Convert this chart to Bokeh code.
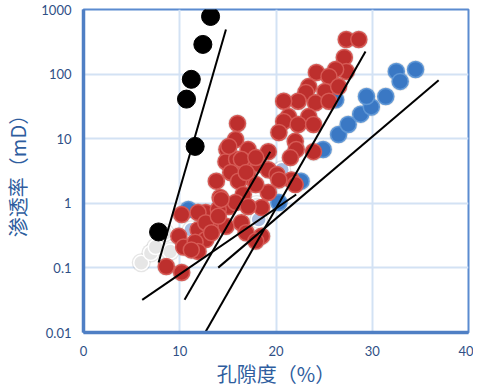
from bokeh.plotting import figure
from bokeh.models import FixedTicker, CustomJSTickFormatter, ColumnDataSource
from bokeh.embed import file_html
from bokeh.resources import INLINE

# --- data (porosity %, permeability mD) ---
red_x = [27.3, 28.6, 27.1, 27.3, 26.2, 24.2, 25.5, 23.4, 23.1, 25.1, 26.5, 24.1, 25.5, 22.3, 20.8,
         21.3, 23.4, 20.8, 22.3, 23.9, 20.3, 16.0, 22.0, 17.1, 19.2, 22.1, 23.9, 21.5, 16.8, 18.2,
         19.2, 17.1, 20.1, 21.6, 19.2, 22.0, 15.8, 14.9, 14.8, 15.9, 15.3, 13.8, 16.1, 15.1, 16.4,
         17.9, 16.9, 17.9, 14.2, 16.6, 15.1, 18.5, 12.7, 20.3, 11.9, 14.0, 15.8, 11.9, 13.3, 14.8,
         12.7, 11.4, 16.4, 16.9, 18.5, 17.9, 17.1, 10.2, 9.9, 10.4, 11.6, 11.9, 8.6, 10.2, 12.7,
         13.3, 14.0, 14.3, 11.2]
red_y = [344, 344, 181, 110, 118, 106, 92, 64, 52, 54, 64, 36, 38, 38, 38,
         22, 22, 18.5, 16.6, 16.6, 12.5, 17.2, 9.1, 6.8, 6.3, 6.8, 6.3, 5.1, 3.7, 4.0,
         3.3, 2.6, 2.8, 2.3, 1.47, 1.95, 9.7, 6.8, 4.4, 4.8, 3.0, 2.2, 2.2, 7.6, 4.8,
         5.1, 3.0, 1.95, 1.23, 1.37, 0.89, 0.86, 0.72, 2.3, 0.72, 0.80, 1.03, 0.39, 0.47, 0.44,
         0.275, 0.21, 0.50, 0.35, 0.31, 0.26, 0.89, 0.67, 0.31, 0.21, 0.25, 0.18, 0.105, 0.085, 0.50,
         0.35, 0.63, 1.15, 0.19]

blue_x = [10.9, 20.3, 22.6, 24.9, 26.5, 27.5, 28.8, 29.9, 29.4, 31.4, 32.5, 32.9, 34.5, 26.2]
blue_y = [0.80, 1.03, 2.2, 6.8, 11.6, 16.6, 24, 31, 45, 45, 110, 77, 118, 40]

white_x = [6.0, 7.0, 7.5, 9.0, 8.5, 18.0]
white_y = [0.12, 0.17, 0.21, 0.18, 0.35, 0.96]

lblue_x = [11.2, 18.2, 20.6]
lblue_y = [0.39, 0.56, 3.3]

black_x = [13.2, 12.4, 11.2, 10.7, 11.6, 7.8]
black_y = [780, 288, 83, 41, 7.6, 0.36]

# trend lines (start/end points)
line_x0 = [14.8, 10.5, 6.1, 14.0, 11.2]
line_y0 = [490, 0.032, 0.032, 0.101, 0.0042]
line_x1 = [7.8, 19.4, 22.1, 36.9, 29.3]
line_y1 = [0.121, 6.3, 1.37, 80, 224]

y_ticks = [0.01, 0.1, 1, 10, 100, 1000]
x_ticks = [0, 10, 20, 30, 40]

p = figure(frame_width=385, frame_height=323, x_range=(0, 40), y_range=(0.01, 1000),
           y_axis_type="log", output_backend="svg", toolbar_location=None,
           min_border_left=77, min_border_right=5, min_border_top=9, min_border_bottom=10)

p.background_fill_color = "white"
p.outline_line_color = "#5b8bd0"
p.outline_line_width = 2

axis_col = "#4f7fc4"
for ax in (p.xaxis[0], p.yaxis[0]):
    ax.axis_line_color = axis_col
    ax.axis_line_width = 3.5
    ax.major_tick_line_color = None
    ax.minor_tick_line_color = None
    ax.major_tick_out = 0
    ax.major_tick_in = 0
    ax.minor_tick_out = 0
    ax.major_label_text_color = "#2f4f86"
    ax.major_label_text_font = "Lato"
    ax.major_label_text_font_size = "13px"
    ax.axis_label_text_color = "#2e5d9e"
    ax.axis_label_text_font = "Noto Sans CJK SC"
    ax.axis_label_text_font_size = "20px"
    ax.axis_label_text_font_style = "normal"

p.xaxis.ticker = FixedTicker(ticks=x_ticks)
p.yaxis.ticker = FixedTicker(ticks=y_ticks)
p.yaxis.formatter = CustomJSTickFormatter(code="return Number(tick.toPrecision(3)).toString();")
p.xaxis.axis_label = "孔隙度（%）"
p.yaxis.axis_label = "渗透率（mD）"
p.xaxis.major_label_standoff = 13
p.xaxis.axis_label_standoff = 0
p.yaxis.major_label_standoff = 12
p.yaxis.axis_label_standoff = 6

p.xgrid.ticker = FixedTicker(ticks=x_ticks)
p.ygrid.ticker = FixedTicker(ticks=y_ticks)
p.grid.grid_line_color = "#d3e2f4"
p.grid.grid_line_width = 2

shadow = dict(size=19, fill_color="#777777", fill_alpha=0.18, line_color=None)
for xs, ys in ((white_x, white_y), (blue_x, blue_y), (lblue_x, lblue_y), (red_x, red_y), (black_x, black_y)):
    p.scatter(xs, ys, **shadow)

p.scatter(white_x, white_y, size=15, fill_color="#e6e6e6", line_color="white", line_width=1.5)
p.scatter(blue_x, blue_y, size=16, fill_color="#3a78c4", line_color="#5f97d6", line_width=1.5)
p.scatter(lblue_x, lblue_y, size=15, fill_color="#a9bde0", line_color="white", line_width=1.5)
p.scatter(red_x, red_y, size=16, fill_color="#bd2f2d", line_color="#d65a55", line_width=1.5)
p.scatter(black_x, black_y, size=18, fill_color="black", line_color="black")

src = ColumnDataSource(dict(x0=line_x0, y0=line_y0, x1=line_x1, y1=line_y1))
p.segment(x0="x0", y0="y0", x1="x1", y1="y1", source=src, line_color="black", line_width=2)

open("out.html", "w").write(file_html(p, INLINE))
